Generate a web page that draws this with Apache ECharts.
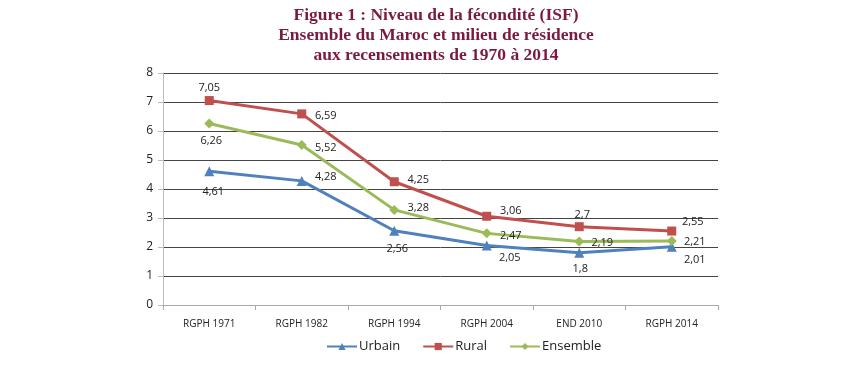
<!DOCTYPE html>
<html>
<head>
<meta charset="utf-8">
<script src="https://cdn.jsdelivr.net/npm/echarts@6/dist/echarts.min.js"></script>
<style>html,body{margin:0;padding:0;background:#fff;}#c{width:842px;height:372px;}</style>
</head>
<body>
<div id="c"></div>
<script>
var categories = ['RGPH 1971', 'RGPH 1982', 'RGPH 1994', 'RGPH 2004', 'END 2010', 'RGPH 2014'];
var urbain = [4.61, 4.28, 2.56, 2.05, 1.8, 2.01];
var rural = [7.05, 6.59, 4.25, 3.06, 2.7, 2.55];
var ensemble = [6.26, 5.52, 3.28, 2.47, 2.19, 2.21];
var yTicks = [0, 1, 2, 3, 4, 5, 6, 7, 8];

// label offsets (label centre relative to marker), styling only
var urbainOff = [[4,21],[24,-4],[3,18],[23,12],[1,16],[23,13]];
var ruralOff = [[0,-13],[24,2],[24,-2],[24,-5],[3,-12],[21,-9]];
var ensembleOff = [[2,17],[24,3],[24,-2],[24,2],[23,1],[23,1]];

function fmt(v){ return String(v).replace('.', ','); }
function build(values, offs){
  return values.map(function(v, i){
    return {value: v, label: {offset: offs[i]}};
  });
}
var labelBase = {show: true, position: 'inside', color: '#222', fontSize: 11, fontFamily: 'Open Sans',
  formatter: function(p){ return fmt(p.value); }};

var chart = echarts.init(document.getElementById('c'));
chart.setOption({
  animation: false,
  title: {
    text: 'Figure 1 : Niveau de la fécondité (ISF)\nEnsemble du Maroc et milieu de résidence\naux recensements de 1970 à 2014',
    left: 431, textAlign: 'center', top: 0,
    textStyle: {fontFamily: 'Liberation Serif', fontWeight: 'bold', fontSize: 17.5, color: '#7a1a40', lineHeight: 20}
  },
  grid: {left: 163, right: 124, top: 73, bottom: 67},
  legend: {
    bottom: 14, left: 321, itemWidth: 30, itemHeight: 9, itemGap: 22,
    textStyle: {fontFamily: 'Open Sans', fontSize: 13, color: '#222', padding: [0,0,0,-3]},
    data: ['Urbain', 'Rural', 'Ensemble']
  },
  xAxis: {
    type: 'category', data: categories, boundaryGap: true,
    axisLine: {lineStyle: {color: '#aaa'}},
    axisTick: {show: true, length: 5, lineStyle: {color: '#aaa'}},
    axisLabel: {color: '#222', fontSize: 10, fontFamily: 'Open Sans', margin: 14},
    z: 5
  },
  yAxis: {
    type: 'value', min: yTicks[0], max: yTicks[yTicks.length-1], interval: 1,
    axisLine: {show: true, lineStyle: {color: '#bbb'}},
    axisTick: {show: true, length: 5, lineStyle: {color: '#bbb'}},
    axisLabel: {color: '#222', fontSize: 12, fontFamily: 'Open Sans', margin: 10},
    splitLine: {lineStyle: {color: '#444', width: 1}}
  },
  series: [
    {name: 'Urbain', type: 'line', data: build(urbain, urbainOff), symbol: 'triangle', symbolSize: 10,
     lineStyle: {width: 3, color: '#4f81bd'}, itemStyle: {color: '#4f81bd'}, label: labelBase, z: 3},
    {name: 'Rural', type: 'line', data: build(rural, ruralOff), symbol: 'rect', symbolSize: 9,
     lineStyle: {width: 3, color: '#c0504d'}, itemStyle: {color: '#c0504d'}, label: labelBase, z: 3},
    {name: 'Ensemble', type: 'line', data: build(ensemble, ensembleOff), symbol: 'diamond', symbolSize: 10,
     lineStyle: {width: 3, color: '#9bbb59'}, itemStyle: {color: '#9bbb59'}, label: labelBase, z: 3}
  ]
});
</script>
</body>
</html>
